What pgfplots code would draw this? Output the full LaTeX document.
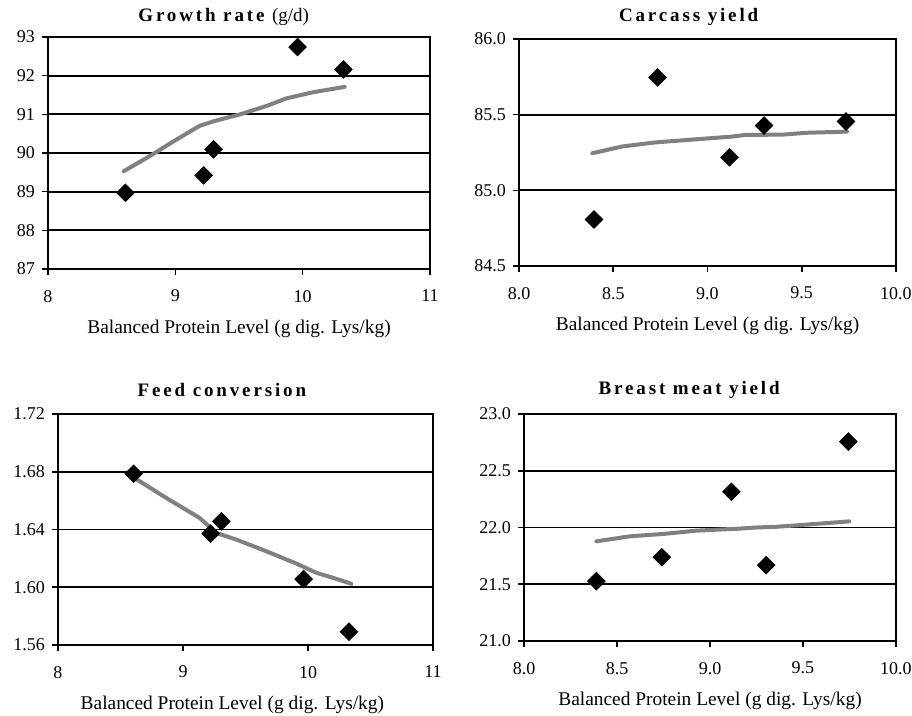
\documentclass[border=0pt]{standalone}
\usepackage{fontspec}
\setmainfont{Liberation Serif}
\newfontfamily\titlefont[LetterSpace=15]{Liberation Serif}
\usepackage{pgfplots}
\pgfplotsset{compat=1.18}
\definecolor{fitgray}{RGB}{128,128,128}
\pgfplotsset{
  panel/.style={
    scale only axis,
    anchor=south west,
    axis line style={black, line width=1pt},
    tick style={black, line width=0.8pt},
    tick align=outside,
    major tick length=3pt,
    xtick pos=left, ytick pos=left,
    ymajorgrids,
    grid style={black, line width=0.9pt},
    tick label style={font=\fontsize{9}{10}\selectfont},
    xticklabel style={yshift=-4pt},
    label style={font=\fontsize{9.7}{11}\selectfont},
    title style={font=\fontsize{9.5}{11}\selectfont, anchor=center},
    /pgf/number format/assume math mode=true,
    scaled ticks=false,
    xlabel={Balanced Protein Level (g dig. Lys/kg)},
  },
  diam/.style={only marks, mark=square*, mark size=3.1pt, mark options={rotate=45, fill=black, draw=black}},
  fit/.style={no marks, draw=fitgray, line width=2pt, line join=round, line cap=round},
}
\begin{document}
\begin{tikzpicture}
\useasboundingbox (0,0) rectangle (456pt,358pt);
% Panel 1: Growth rate
\begin{axis}[panel,
  at={(24pt,223.5pt)}, width=191pt, height=116pt,
  xmin=8, xmax=11, xtick={8,9,10,11},
  ymin=87, ymax=93, ytick={87,88,89,90,91,92,93},
  title={\titlefont\bfseries Growth rate\ \normalfont(g/d)},
  title style={at={(0.46,1)}, yshift=4pt},
  xlabel style={at={(0.5,0)}, anchor=center, yshift=-30pt},
]
\addplot[fit] coordinates {(8.595,89.53) (8.80,89.92) (9.01,90.35) (9.19,90.70) (9.30,90.82) (9.51,91.00) (9.72,91.22) (9.87,91.41) (10.08,91.57) (10.33,91.71)};
\addplot[diam] coordinates {(8.608,88.97) (9.223,89.42) (9.30,90.095) (9.96,92.74) (10.32,92.16)};
\end{axis}
% Panel 2: Carcass yield
\begin{axis}[panel,
  at={(259.5pt,225pt)}, width=188.5pt, height=113.5pt,
  xmin=8, xmax=10, xtick={8,8.5,9,9.5,10},
  ymin=84.5, ymax=86, ytick={84.5,85,85.5,86},
  xticklabel style={/pgf/number format/.cd, fixed, fixed zerofill, precision=1},
  yticklabel style={/pgf/number format/.cd, fixed, fixed zerofill, precision=1},
  title={\titlefont\bfseries Carcass yield},
  title style={at={(0.45,1)}, yshift=5pt},
  xlabel style={at={(0.5,0)}, anchor=center, yshift=-30pt},
]
\addplot[fit] coordinates {(8.389,85.245) (8.549,85.29) (8.726,85.317) (8.938,85.337) (9.13,85.355) (9.20,85.366) (9.40,85.368) (9.52,85.38) (9.74,85.388)};
\addplot[diam] coordinates {(8.398,84.807) (8.735,85.746) (9.117,85.218) (9.30,85.428) (9.735,85.455)};
\end{axis}
% Panel 3: Feed conversion
\begin{axis}[panel,
  at={(29pt,35.5pt)}, width=187.5pt, height=115.5pt,
  xmin=8, xmax=11, xtick={8,9,10,11},
  ymin=1.56, ymax=1.72, ytick={1.56,1.60,1.64,1.68,1.72},
  yticklabel style={/pgf/number format/.cd, fixed, fixed zerofill, precision=2},
  title={\titlefont\bfseries Feed conversion},
  title style={at={(0.437,1)}, yshift=6pt},
  xlabel style={at={(0.465,0)}, anchor=center, yshift=-30pt},
]
\addplot[fit] coordinates {(8.613,1.6756) (8.867,1.6618) (9.133,1.648) (9.267,1.6376) (9.427,1.633) (9.667,1.6249) (9.907,1.6164) (10.067,1.610) (10.2,1.6065) (10.347,1.6024)};
\addplot[diam] coordinates {(8.605,1.6786) (9.221,1.6371) (9.307,1.6456) (9.965,1.6056) (10.328,1.5692)};
\end{axis}
% Panel 4: Breast meat yield
\begin{axis}[panel,
  at={(262pt,37.5pt)}, width=186pt, height=113.5pt,
  xmin=8, xmax=10, xtick={8,8.5,9,9.5,10},
  ymin=21, ymax=23, ytick={21,21.5,22,22.5,23},
  xticklabel style={/pgf/number format/.cd, fixed, fixed zerofill, precision=1},
  yticklabel style={/pgf/number format/.cd, fixed, fixed zerofill, precision=1},
  title={\titlefont\bfseries Breast meat yield},
  title style={at={(0.444,1)}, yshift=6pt},
  xlabel style={at={(0.5,0)}, anchor=center, yshift=-30pt},
]
\addplot[fit] coordinates {(8.389,21.878) (8.568,21.922) (8.747,21.943) (8.926,21.972) (9.158,21.99) (9.248,22.0) (9.355,22.006) (9.516,22.025) (9.749,22.054)};
\addplot[diam] coordinates {(8.389,21.527) (8.741,21.738) (9.115,22.315) (9.302,21.668) (9.744,22.757)};
\end{axis}
\end{tikzpicture}
\end{document}
